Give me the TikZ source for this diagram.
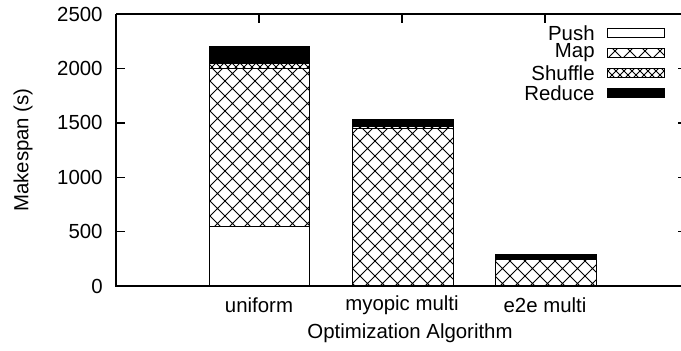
\documentclass[tikz,border=0pt]{standalone}
\usepackage{fontspec}
\setmainfont{Liberation Sans}
\usetikzlibrary{positioning,patterns}

% cross hatch fills for the stacked bars
\pgfdeclarepatternformonly{mapx}{\pgfpoint{-1pt}{-1pt}}{\pgfpoint{8.5pt}{8.5pt}}{\pgfpoint{7.5pt}{7.5pt}}{
  \pgfsetlinewidth{0.45pt}
  \pgfpathmoveto{\pgfpointorigin}\pgfpathlineto{\pgfpoint{7.5pt}{7.5pt}}
  \pgfpathmoveto{\pgfpoint{0pt}{7.5pt}}\pgfpathlineto{\pgfpoint{7.5pt}{0pt}}
  \pgfusepath{stroke}}
\pgfdeclarepatternformonly{shufflex}{\pgfpoint{-1pt}{-1pt}}{\pgfpoint{5pt}{5pt}}{\pgfpoint{4pt}{4pt}}{
  \pgfsetlinewidth{0.4pt}
  \pgfpathmoveto{\pgfpointorigin}\pgfpathlineto{\pgfpoint{4pt}{4pt}}
  \pgfpathmoveto{\pgfpoint{0pt}{4pt}}\pgfpathlineto{\pgfpoint{4pt}{0pt}}
  \pgfusepath{stroke}}

\tikzstyle{frame} = [line width=0.7pt, black]
\tikzstyle{bar} = [draw=black, line width=0.5pt]
\tikzstyle{pushbar} = [bar, fill=white]
\tikzstyle{mapbar} = [bar, pattern=mapx]
\tikzstyle{shufflebar} = [bar, pattern=shufflex]
\tikzstyle{reducebar} = [bar, fill=black]
\tikzstyle{lbl} = [inner sep=0pt]

\begin{document}
\begin{tikzpicture}[x=0.5pt, y=0.5pt, font=\fontsize{10.2}{12}\selectfont]
  \useasboundingbox (0,0) rectangle (681,351);

  % stacked bars, y in seconds
  \begin{scope}[shift={(0,65)}, y=0.05436pt]
    % uniform
    \draw[pushbar] (209,0) rectangle (309,550);
    \draw[mapbar] (209,550) rectangle (309,2000);
    \draw[shufflebar] (209,2000) rectangle (309,2050);
    \draw[reducebar] (209,2050) rectangle (309,2200);
    % myopic multi
    \draw[pushbar] (352,0) rectangle (453,5);
    \draw[mapbar] (352,5) rectangle (453,1450);
    \draw[shufflebar] (352,1450) rectangle (453,1465);
    \draw[reducebar] (352,1465) rectangle (453,1527);
    % e2e multi
    \draw[pushbar] (495,0) rectangle (596,5);
    \draw[mapbar] (495,5) rectangle (596,240);
    \draw[shufflebar] (495,240) rectangle (596,255);
    \draw[reducebar] (495,255) rectangle (596,285);
  \end{scope}

  % axes
  \draw[frame] (116,337) -- (116,65) -- (681,65);
  \draw[frame] (116,337) -- (681,337);
  \foreach \v in {0,500,...,2500}
    \node[lbl, anchor=east] (ytick\v) at (103,{65+\v*0.10872}) {\v};
  \foreach \v in {500,1000,...,2000} {
    \draw[frame] (116,{65+\v*0.10872}) -- (125,{65+\v*0.10872});
    \draw[frame] (681,{65+\v*0.10872}) -- (678,{65+\v*0.10872});
  }
  \foreach \x in {259,402,545}
    \draw[frame] (\x,337) -- (\x,328);

  \node[lbl] (uniform) at (259,46) {uniform};
  \node[lbl] (myopic) at (402,46) {myopic multi};
  \node[lbl] (e2e) at (545,46) {e2e multi};
  \node[lbl] (xlabel) at (410,18) {Optimization Algorithm};
  \node[lbl, rotate=90] (ylabel) at (23,201) {Makespan (s)};

  % legend
  \node[lbl, anchor=east] (push) at (595,318) {Push};
  \node[lbl, anchor=east] (map) at (595,298) {Map};
  \node[lbl, anchor=east] (shuffle) at (595,278) {Shuffle};
  \node[lbl, anchor=east] (reduce) at (595,258) {Reduce};
  \draw[pushbar] (607,313.5) rectangle (664,322.5);
  \draw[mapbar] (607,293.5) rectangle (664,302.5);
  \draw[shufflebar] (607,273.5) rectangle (664,282.5);
  \draw[reducebar] (607,253.5) rectangle (664,262.5);
\end{tikzpicture}
\end{document}
